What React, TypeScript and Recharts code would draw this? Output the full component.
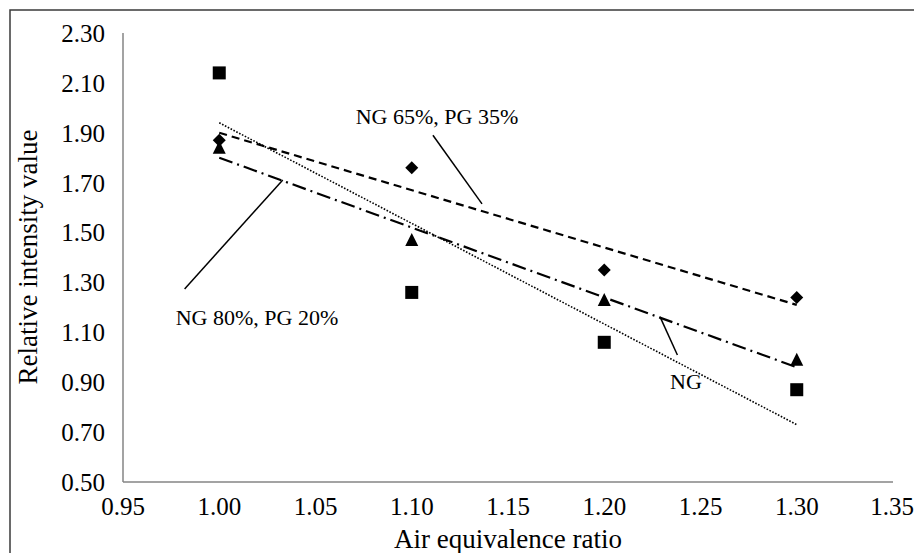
import { ComposedChart, Scatter, Line, XAxis, YAxis, ReferenceLine } from "recharts";

// air equivalence ratio (x) and relative intensity per fuel mix
const ratios = [1.0, 1.1, 1.2, 1.3];
const ngValues = [2.14, 1.26, 1.06, 0.87];
const ng65Values = [1.87, 1.76, 1.35, 1.24];
const ng80Values = [1.84, 1.47, 1.23, 0.99];

// linear trendline ends, read at x = 1.00 and 1.30
const trendEnds = [1.0, 1.3];
const ngTrend = [1.94, 0.73];
const ng65Trend = [1.9, 1.21];
const ng80Trend = [1.8, 0.96];

const xTicks = [0.95, 1.0, 1.05, 1.1, 1.15, 1.2, 1.25, 1.3, 1.35];
const yTicks = [0.5, 0.7, 0.9, 1.1, 1.3, 1.5, 1.7, 1.9, 2.1, 2.3];

const toPoints = (xs: number[], ys: number[]) => xs.map((x, i) => ({ x, y: ys[i] }));

const font = "Liberation Serif, Times New Roman, DejaVu Serif, serif";

const Square = ({ cx, cy }: any) => <rect x={cx - 6.5} y={cy - 6.5} width={13} height={13} fill="#000" />;
const Diamond = ({ cx, cy }: any) => (
    <path d={`M${cx},${cy - 6.5}L${cx + 6.5},${cy}L${cx},${cy + 6.5}L${cx - 6.5},${cy}Z`} fill="#000" />
);
const Triangle = ({ cx, cy }: any) => (
    <path d={`M${cx},${cy - 7}L${cx + 6.5},${cy + 6}L${cx - 6.5},${cy + 6}Z`} fill="#000" />
);

const tickStyle = { fontFamily: font, fontSize: 25, fill: "#000" };

const App = () => (
    <div style={{ position: "absolute", left: 0, top: 0, background: "#fff", fontFamily: font }}>
        <ComposedChart width={914} height={553} margin={{ top: 33, right: 21, left: 0, bottom: 0 }}
            style={{ fontFamily: font }}>
            <rect x={10} y={10} width={912} height={560} fill="none" stroke="#3a3a3a" strokeWidth={1.5} />
            <XAxis
                type="number"
                dataKey="x"
                domain={[0.95, 1.35]}
                ticks={xTicks}
                tickFormatter={(v: number) => v.toFixed(2)}
                tickLine={false}
                tickSize={0}
                tickMargin={15}
                height={71}
                stroke="#858585"
                strokeWidth={1.5}
                tick={tickStyle}
                allowDataOverflow
            />
            <YAxis
                type="number"
                dataKey="y"
                domain={[0.5, 2.3]}
                ticks={yTicks}
                tickFormatter={(v: number) => v.toFixed(2)}
                tickLine={false}
                tickSize={0}
                tickMargin={18}
                width={123}
                stroke="#858585"
                strokeWidth={1.5}
                tick={tickStyle}
                allowDataOverflow
            />
            <Line data={toPoints(trendEnds, ng65Trend)} dataKey="y" stroke="#000" strokeWidth={2.2}
                strokeDasharray="8 5" dot={false} isAnimationActive={false} />
            <Line data={toPoints(trendEnds, ng80Trend)} dataKey="y" stroke="#000" strokeWidth={2.2}
                strokeDasharray="14 5 2 5" dot={false} isAnimationActive={false} />
            <Line data={toPoints(trendEnds, ngTrend)} dataKey="y" stroke="#000" strokeWidth={1.6}
                strokeDasharray="1.6 1.6" dot={false} isAnimationActive={false} />
            <Scatter data={toPoints(ratios, ng65Values)} shape={Diamond} isAnimationActive={false} />
            <Scatter data={toPoints(ratios, ng80Values)} shape={Triangle} isAnimationActive={false} />
            <Scatter data={toPoints(ratios, ngValues)} shape={Square} isAnimationActive={false} />
            <ReferenceLine segment={[{ x: 1.111, y: 1.89 }, { x: 1.1365, y: 1.615 }]} stroke="#000" strokeWidth={1.5} />
            <ReferenceLine segment={[{ x: 0.982, y: 1.274 }, { x: 1.033, y: 1.711 }]} stroke="#000" strokeWidth={1.5} />
            <ReferenceLine segment={[{ x: 1.229, y: 1.162 }, { x: 1.238, y: 1.009 }]} stroke="#000" strokeWidth={1.5} />
            <text x={437} y={124} textAnchor="middle" fontFamily={font} fontSize={22} fill="#000">NG 65%, PG 35%</text>
            <text x={257} y={325} textAnchor="middle" fontFamily={font} fontSize={22} fill="#000">NG 80%, PG 20%</text>
            <text x={686} y={389} textAnchor="middle" fontFamily={font} fontSize={22} fill="#000">NG</text>
            <text x={508} y={548} textAnchor="middle" fontFamily={font} fontSize={27} fill="#000">
                Air equivalence ratio
            </text>
            <text x={37} y={257} textAnchor="middle" transform="rotate(-90 37 257)"
                fontFamily={font} fontSize={27} fill="#000">
                Relative intensity value
            </text>
        </ComposedChart>
    </div>
);

export default App;
